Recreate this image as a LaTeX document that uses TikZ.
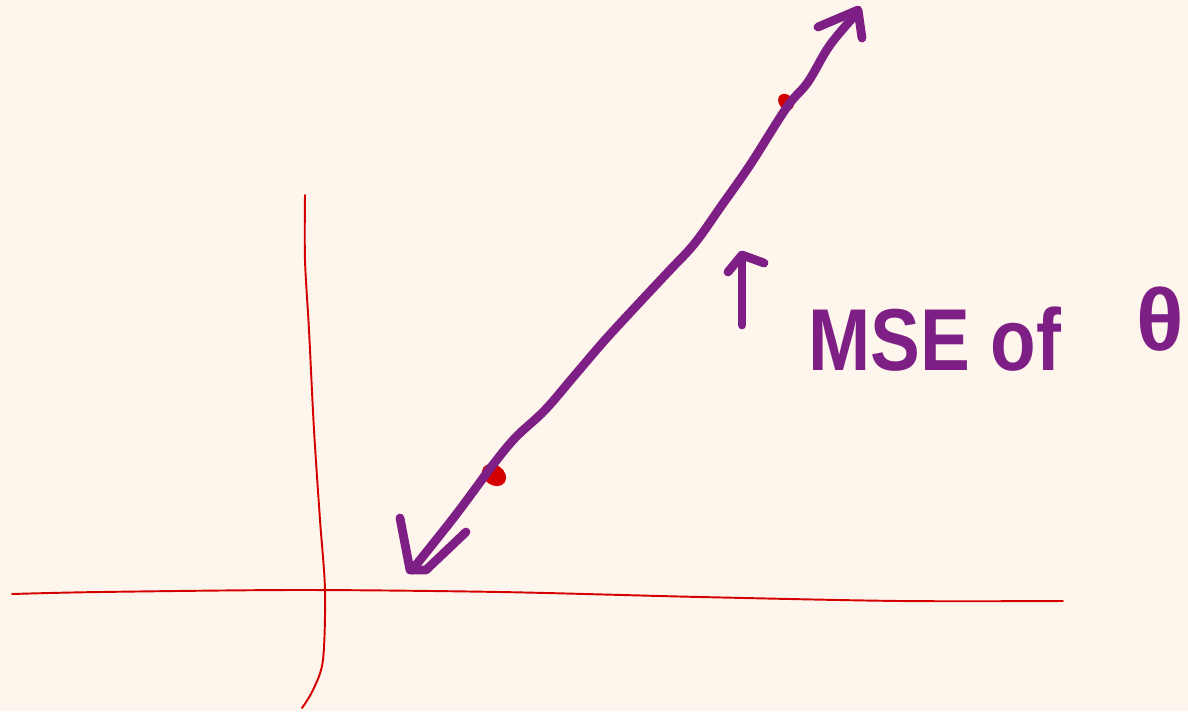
\documentclass[tikz,border=0pt]{standalone}
\usepackage{fontspec}
\setmainfont{Liberation Sans}
\definecolor{paper}{HTML}{FEF6EC}
\definecolor{ink}{HTML}{7E1F86}
\definecolor{axisred}{HTML}{D40000}
\tikzset{
  pen/.style={draw=ink, line width=5pt, line cap=round, line join=round},
  axisline/.style={draw=axisred, line width=1.1pt, line cap=round},
  blob/.style={fill=axisred, draw=none},
  handtext/.style={text=ink, inner sep=0pt, font=\bfseries\fontsize{50}{50}\selectfont}
}
\begin{document}
\begin{tikzpicture}[x=0.02cm, y=-0.02cm]
\fill[paper] (0,0) rectangle (1188,711);
\useasboundingbox (0,0) rectangle (1188,711);
\clip (0,0) rectangle (1188,711);
% axes
\draw[axisline] plot[smooth] coordinates {(12,594) (100,592) (300,590) (500,592) (700,597) (900,601) (1063,601)};
\draw[axisline] plot[smooth] coordinates {(305,195) (305,260) (309,330) (314,430) (320,520) (325,590) (323,660) (313,690) (302,708)};
% red marks under the line
\fill[blob, rotate around={-35:(494,475)}] (494,475) ellipse (13 and 10);
\fill[blob, rotate around={-50:(786,102)}] (786,102) ellipse (9 and 7);
% the two-headed stroke
\draw[pen] plot[smooth, tension=0.6] coordinates {(412,570) (440,535) (458,512) (478,485) (492,466) (515,438) (545,410) (575,375) (605,340) (640,302) (670,270) (695,243) (722,205) (750,165) (787,107) (808,82) (830,45) (858,12)};
\draw[pen] (400,518) -- (410,570) -- (426,570) -- (466,532);
\draw[pen] (818,27) -- (858,10) -- (862,38);
% label
\draw[pen] (742,325) -- (742,258);
\draw[pen] (728,272) -- (742,255) -- (764,263);
\node[handtext, anchor=base west, xscale=0.85] (msetext) at (808,370) {MSE of};
\node[handtext, anchor=base west] (theta) at (1136,350) {θ};
\end{tikzpicture}
\end{document}
